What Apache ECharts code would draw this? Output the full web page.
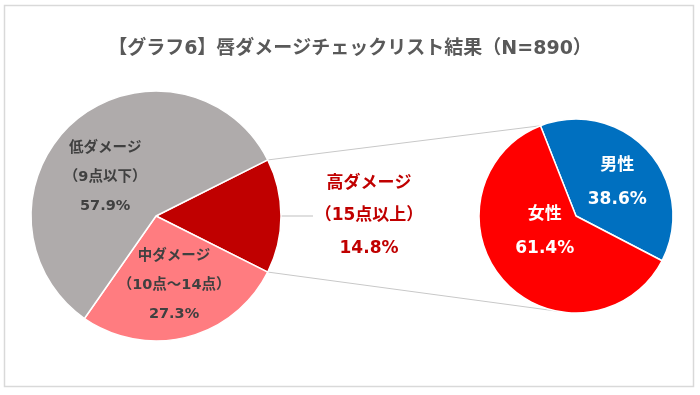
<!DOCTYPE html>
<html><head><meta charset="utf-8">
<script src="https://cdn.jsdelivr.net/npm/echarts@6/dist/echarts.min.js"></script>
<style>html,body{margin:0;padding:0;background:#fff}#c{width:700px;height:395px}</style>
</head><body><div id="c"></div>
<script>
const titleText = '【グラフ6】唇ダメージチェックリスト結果（N=890）';
const mainNames = ['高ダメージ', '中ダメージ', '低ダメージ'];
const mainSubs = ['（15点以上）', '（10点～14点）', '（9点以下）'];
const mainValues = [14.8, 27.3, 57.9];
const subNames = ['男性', '女性'];
const subValues = [38.6, 61.4];

const FONT = '"DejaVu Sans", "Noto Sans CJK JP", sans-serif';
const mainColors = ['#C00000', '#FF7C80', '#AFABAB'];
const subColors = ['#0070C0', '#FF0000'];

const L = {cx: 156, cy: 216, r: 125};
const R = {cx: 576, cy: 216, r: 97};
const mainTotal = mainValues.reduce((a, b) => a + b, 0);
const mainStart = mainValues[0] / mainTotal * 360 / 2;
const subStart = 111.5;

function pt(c, angDeg) {
  const a = angDeg * Math.PI / 180;
  return [c.cx + c.r * Math.cos(a), c.cy - c.r * Math.sin(a)];
}
const p1 = pt(L, mainStart), p2 = pt(L, -mainStart);
const q1 = pt(R, subStart), q2 = pt(R, -101);

const labelOffsets = [[0, 0], [2, 6], [-8, 11]];

const chart = echarts.init(document.getElementById('c'));
chart.setOption({
  animation: false,
  title: {
    text: titleText, left: 'center', top: 35,
    textStyle: {fontFamily: FONT, fontSize: 19, fontWeight: 'bold', color: '#595959'}
  },
  graphic: [
    {type: 'rect', shape: {x: 4.5, y: 5.5, width: 689, height: 381},
     style: {fill: 'none', stroke: '#d9d9d9', lineWidth: 1.5}, z: -1},
    {type: 'line', shape: {x1: p1[0], y1: p1[1], x2: q1[0], y2: q1[1]},
     style: {stroke: '#c8c8c8', lineWidth: 1}},
    {type: 'line', shape: {x1: p2[0], y1: p2[1], x2: q2[0], y2: q2[1]},
     style: {stroke: '#c8c8c8', lineWidth: 1}}
  ],
  series: [
    {
      type: 'pie', center: [L.cx, L.cy], radius: L.r, startAngle: mainStart,
      clockwise: true, avoidLabelOverlap: false,
      itemStyle: {borderColor: '#fff', borderWidth: 1.5},
      data: mainValues.map((v, i) => ({
        value: v, name: mainNames[i],
        itemStyle: {color: mainColors[i]},
        label: i === 0 ? {
          show: true, position: 'outside', distanceToLabelLine: 2,
          formatter: p => '{a|' + mainNames[i] + '}\n{a|' + mainSubs[i] + '}\n{a|' + v.toFixed(1) + '%}',
          rich: {a: {width: 108, align: 'center', fontFamily: FONT, fontSize: 17, fontWeight: 'bold', color: '#C00000', lineHeight: 32.5}}
        } : {
          show: true, position: 'inside', offset: labelOffsets[i],
          formatter: p => mainNames[i] + '\n' + mainSubs[i] + '\n' + v.toFixed(1) + '%',
          fontFamily: FONT, fontSize: 14.5, fontWeight: 'bold', color: '#404040', lineHeight: 29
        },
        labelLine: i === 0 ? {show: true, length: 28, length2: 4, lineStyle: {color: '#bfbfbf', width: 1}} : {show: false}
      }))
    },
    {
      type: 'pie', center: [R.cx, R.cy], radius: R.r, startAngle: subStart,
      clockwise: true, avoidLabelOverlap: false,
      itemStyle: {borderColor: '#fff', borderWidth: 1.5},
      label: {show: true, position: 'inside', fontFamily: FONT, fontSize: 17, fontWeight: 'bold', color: '#fff', lineHeight: 34},
      labelLine: {show: false},
      data: subValues.map((v, i) => ({
        value: v, name: subNames[i],
        itemStyle: {color: subColors[i]},
        label: {offset: i === 0 ? [3, 1] : [7, -19],
                formatter: p => subNames[i] + '\n' + v.toFixed(1) + '%'}
      }))
    }
  ]
});
</script></body></html>
